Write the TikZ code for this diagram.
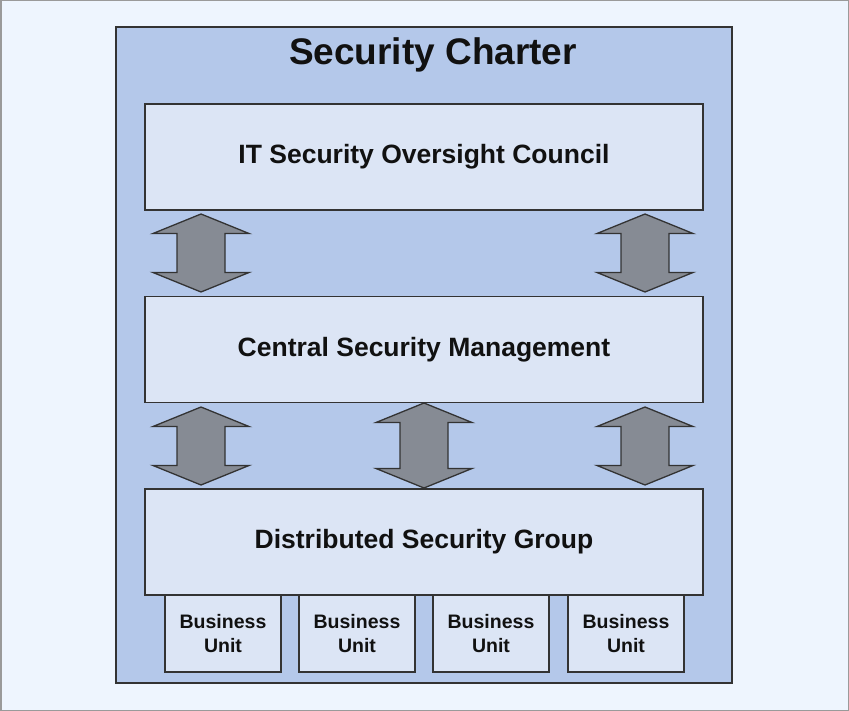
\documentclass[tikz,border=0pt]{standalone}
\usepackage{fontspec}
\setmainfont{Liberation Sans}
\usetikzlibrary{positioning}
\definecolor{pagebg}{HTML}{EEF5FE}
\definecolor{pageline}{HTML}{9A9A9A}
\definecolor{charterfill}{HTML}{B4C8EA}
\definecolor{boxfill}{HTML}{DCE5F5}
\definecolor{boxline}{HTML}{333333}
\definecolor{arrfill}{HTML}{868B94}
\definecolor{txt}{HTML}{111111}

\tikzset{
  layerbox/.style={draw=boxline, line width=1.5pt, fill=boxfill, text=txt,
    minimum width=558pt, minimum height=106pt, inner sep=0pt,
    font=\bfseries\fontsize{26.5}{30}\selectfont},
  unitbox/.style={draw=boxline, line width=1.5pt, fill=boxfill, text=txt,
    minimum width=116pt, minimum height=77pt, inner sep=0pt, align=center,
    font=\bfseries\fontsize{19.5}{24}\selectfont},
  dblarrow/.style={draw=boxline, line width=1.3pt, fill=arrfill, line join=miter}
}

\begin{document}
\begin{tikzpicture}[x=1pt, y=-1pt]
  \useasboundingbox (0,0) rectangle (849,711);
  \draw[fill=pagebg, draw=pageline, line width=1.5pt] (0.75,0.75) rectangle (848.25,710.25);
  % charter frame
  \draw[fill=charterfill, draw=boxline, line width=1.5pt] (116,27) rectangle (732,683);
  \node[text=txt, font=\bfseries\fontsize{37}{40}\selectfont] (title) at (433,55) {Security Charter};

  % layers
  \node[layerbox] (council) at (424,157) {IT Security Oversight Council};
  \node[layerbox] (central) at (424,349.5) {Central Security Management};
  \node[layerbox] (distrib) at (424,542) {Distributed Security Group};

  % two-way arrows between layers
  \foreach \cx/\ty/\by in {201/214/292, 645/214/292, 201/407/485, 424/403/488, 645/407/485}
    \draw[dblarrow] (\cx,\ty) -- ++(48,19.5) -- ++(-24,0) -- (\cx+24,\by-19.5) -- ++(24,0)
      -- (\cx,\by) -- ++(-48,-19.5) -- ++(24,0) -- (\cx-24,\ty+19.5) -- ++(-24,0) -- cycle;

  % business units
  \foreach \i/\ux in {1/223, 2/357, 3/491, 4/626}
    \node[unitbox] (unit\i) at (\ux,633.5) {Business\\Unit};
\end{tikzpicture}
\end{document}
